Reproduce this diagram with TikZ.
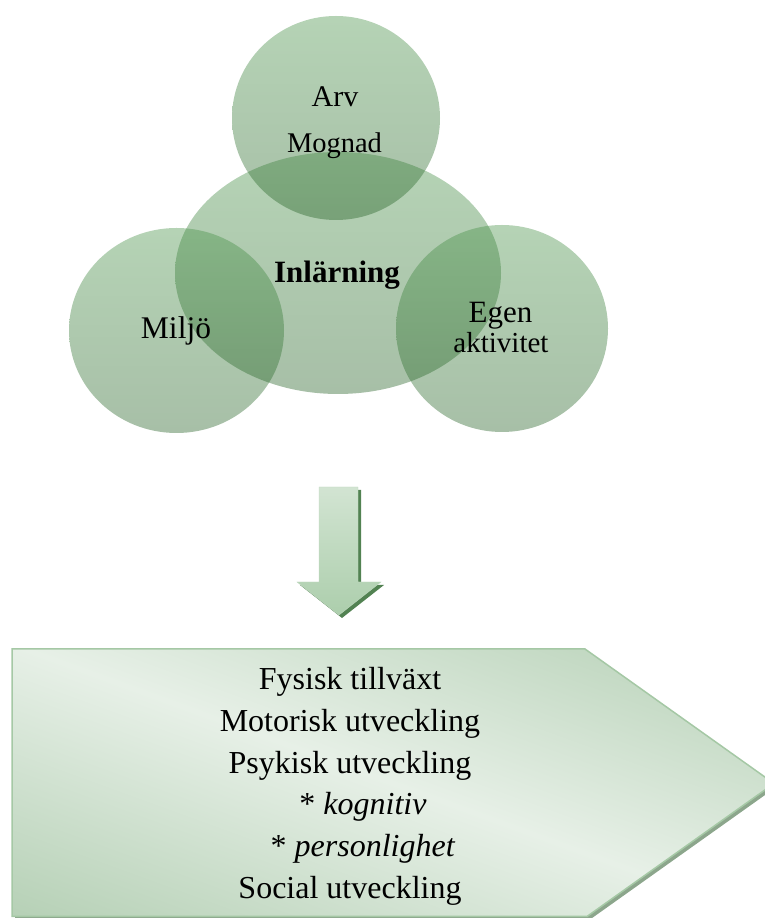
\documentclass[tikz,border=0pt]{standalone}
\usepackage{fontspec}
\setmainfont{Liberation Serif}[
  BoldFont   = Liberation Serif Bold,
  ItalicFont = Liberation Serif Italic]
\usetikzlibrary{shapes.geometric}
\definecolor{bubTop}{RGB}{70,145,70}
\definecolor{bubBot}{RGB}{35,95,35}
\definecolor{arrTop}{RGB}{210,228,210}
\definecolor{arrBot}{RGB}{172,206,172}
\definecolor{arrEdge}{RGB}{192,216,192}
\definecolor{arrShade}{RGB}{82,130,82}
\definecolor{boxDark}{RGB}{178,206,178}
\definecolor{boxLight}{RGB}{231,240,231}
\definecolor{boxEdge}{RGB}{165,200,165}
\definecolor{boxShade}{RGB}{140,166,140}
\tikzset{
  bubble/.style   = {ellipse, inner sep=0pt, top color=bubTop, bottom color=bubBot,
                     fill opacity=0.4, draw=none},
  word/.style     = {anchor=base, inner sep=0pt, text opacity=1},
  listline/.style = {anchor=base, inner sep=0pt, font=\fontsize{32}{38}\selectfont},
}
\begin{document}
\begin{tikzpicture}[x=1pt, y=1pt]
  \path[use as bounding box, clip] (0,0) rectangle (765,918);

  \node[bubble, minimum width=326pt, minimum height=242pt] (learn) at (338,645)   {};
  \node[bubble, minimum width=208pt, minimum height=204pt] (heir)  at (336,800)   {};
  \node[bubble, minimum width=215pt, minimum height=205pt] (env)   at (176.5,587.5) {};
  \node[bubble, minimum width=212pt, minimum height=207pt] (own)   at (502,589.5) {};

  \node[word, font=\fontsize{30}{36}\selectfont]           (arv)    at (335,811)   {Arv};
  \node[word, font=\fontsize{28.5}{34}\selectfont]         (mognad) at (334.5,765) {Mognad};
  \node[word, font=\fontsize{31}{37}\selectfont\bfseries]  (inl)    at (337,635)   {Inlärning};
  \node[word, font=\fontsize{31.5}{38}\selectfont]         (miljo)  at (176,579)   {Miljö};
  \node[word, font=\fontsize{31}{37}\selectfont]           (egen)   at (500.5,595) {Egen};
  \node[word, font=\fontsize{29}{35}\selectfont]           (aktiv)  at (501,565)   {aktivitet};

  \fill[arrShade, shift={(3,-3)}] (319,431) -- (358,431) -- (358,336) -- (381,336)
    -- (339,303) -- (297,336) -- (319,336) -- cycle;
  \draw[arrEdge, top color=arrTop, bottom color=arrBot] (319,431) -- (358,431) -- (358,336)
    -- (381,336) -- (339,303) -- (297,336) -- (319,336) -- cycle;

  \fill[boxShade, shift={(3,-3)}] (12,269) -- (585,269) -- (774,134.5) -- (587,1.5)
    -- (12,1.5) -- cycle;
  \begin{scope}
    \clip (12,269) -- (585,269) -- (774,134.5) -- (587,1.5) -- (12,1.5) -- cycle;
    \begin{scope}[transform canvas={rotate around={-20:(393,135)}}]
      \shade[top color=boxDark, bottom color=boxDark, middle color=boxLight]
        (-150,-140) rectangle (936,410);
    \end{scope}
  \end{scope}
  \draw[boxEdge, line width=1.5pt] (12,269) -- (585,269) -- (774,134.5) -- (587,1.5)
    -- (12,1.5) -- cycle;

  \foreach \dx/\txt [count=\i] in {0/Fysisk tillväxt, 0/Motorisk utveckling,
      0/Psykisk utveckling, 13/{* \textit{kognitiv}}, 13/{* \textit{personlighet}},
      0/Social utveckling}
    \node[listline] (row\i) at (350+\dx, 269.6-41.6*\i) {\txt};
\end{tikzpicture}
\end{document}
